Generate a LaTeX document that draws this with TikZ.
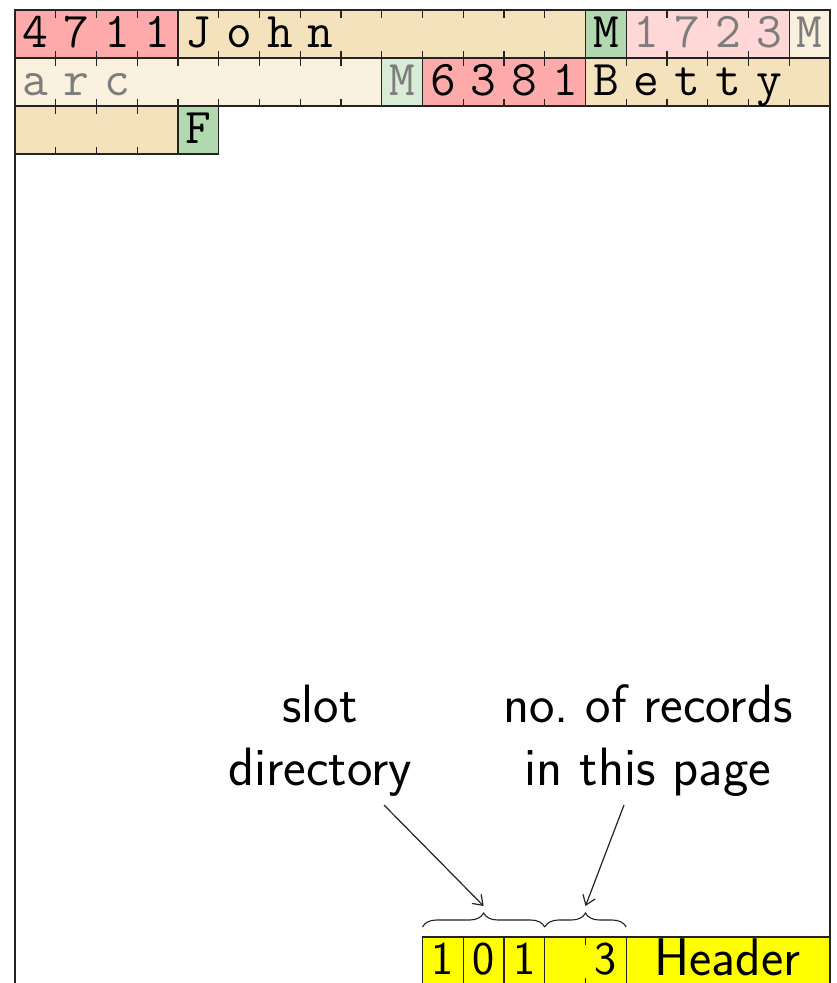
\documentclass[tikz,border=0pt]{standalone}
\usepackage{fontspec}
\usetikzlibrary{decorations.pathreplacing,arrows.meta}
\definecolor{recid}{RGB}{255,170,170}
\definecolor{recidf}{RGB}{255,215,215}
\definecolor{nm}{RGB}{243,226,187}
\definecolor{nmf}{RGB}{249,240,222}
\definecolor{sx}{RGB}{178,216,175}
\definecolor{sxf}{RGB}{216,236,215}
\definecolor{hdr}{RGB}{255,255,0}
\definecolor{faded}{RGB}{125,125,125}
\definecolor{ln}{RGB}{35,35,35}
\tikzset{
  fieldbox/.style={draw=ln,line width=1.4pt,inner sep=0pt,outer sep=0pt,minimum height=48pt},
  tickmark/.style={draw=ln,line width=1.4pt},
  ttch/.style={inner sep=0pt,anchor=base,font=\fontsize{50}{50}\selectfont\ttfamily},
  sfch/.style={inner sep=0pt,anchor=base,font=\fontsize{47}{47}\selectfont\sffamily},
  hdch/.style={inner sep=0pt,anchor=base,font=\fontsize{53}{53}\selectfont\sffamily},
  lbl/.style={inner sep=0pt,align=center,anchor=base,font=\fontsize{54}{63}\selectfont\sffamily},
  pageframe/.style={draw=ln,line width=1.4pt},
  bracestyle/.style={draw=ln,line width=1.1pt,decorate,decoration={brace,amplitude=14pt}},
  pointer/.style={draw=ln,line width=1.2pt,-{Straight Barb[length=9pt,width=13pt]}}
}
% #1 name, #2 top y, #3 first byte, #4 number of bytes, #5 fill, #6 chars, #7 text colour, #8 char style
\newcommand\fld[8]{%
  \pgfmathsetmacro\fx{15+#3*40.75}%
  \pgfmathsetmacro\fw{#4*40.75}%
  \node[fieldbox,fill=#5,minimum width=\fw pt,anchor=north west] (#1) at (\fx,#2) {};
  \ifnum#4>1
    \pgfmathtruncatemacro\nk{#4-1}%
    \foreach \k in {1,...,\nk} {
      \draw[tickmark] ({\fx+\k*40.75},#2) -- ++(0,7.5);
      \draw[tickmark] ({\fx+\k*40.75},{#2+48}) -- ++(0,-7.5);
    }
  \fi
  \foreach \c [count=\i from 0] in {#6} {
    \node[#8,text=#7] (#1-\i) at ({\fx+(\i+0.5)*40.75},{#2+37.5}) {\c};
  }
}
\begin{document}
\begin{tikzpicture}[x=1pt,y=-1pt]
\useasboundingbox (0,0) rectangle (836,983);
\draw[pageframe] (15,10) rectangle (830,1000);
% row 1
\fld{r1id}{10}{0}{4}{recid}{4,7,1,1}{black}{ttch}
\fld{r1nm}{10}{4}{10}{nm}{J,o,h,n}{black}{ttch}
\fld{r1sx}{10}{14}{1}{sx}{M}{black}{ttch}
\fld{r2id}{10}{15}{4}{recidf}{1,7,2,3}{faded}{ttch}
\fld{r2nma}{10}{19}{1}{nmf}{M}{faded}{ttch}
% row 2
\fld{r2nmb}{58}{0}{9}{nmf}{a,r,c}{faded}{ttch}
\fld{r2sx}{58}{9}{1}{sxf}{M}{faded}{ttch}
\fld{r3id}{58}{10}{4}{recid}{6,3,8,1}{black}{ttch}
\fld{r3nma}{58}{14}{6}{nm}{B,e,t,t,y}{black}{ttch}
% row 3
\fld{r3nmb}{106}{0}{4}{nm}{}{black}{ttch}
\fld{r3sx}{106}{4}{1}{sx}{F}{black}{ttch}
% header row
\fld{s1}{937}{10}{1}{hdr}{1}{black}{sfch}
\fld{s2}{937}{11}{1}{hdr}{0}{black}{sfch}
\fld{s3}{937}{12}{1}{hdr}{1}{black}{sfch}
\fld{cnt}{937}{13}{2}{hdr}{{},3}{black}{sfch}
\node[fieldbox,fill=hdr,minimum width=203.75pt,anchor=north west] (hd) at (626.25,937) {};
\node[hdch] (hdtext) at (727.5,975) {Header};
% braces
\coordinate (b1l) at (422.5,927);
\coordinate (b1r) at (544.75,927);
\coordinate (b2r) at (626.25,927);
\draw[bracestyle] (b1l) -- (b1r);
\draw[bracestyle] (b1r) -- (b2r);
\coordinate (tip1) at (483.6,906);
\coordinate (tip2) at (585.5,906);
% labels
\node[lbl] (sdir) at (320,785) {slot\\directory};
\node[lbl] (nrec) at (648,785) {no.\ of records\\in this page};
\coordinate (from1) at (384,805);
\coordinate (from2) at (624,805);
\draw[pointer] (from1) -- (tip1);
\draw[pointer] (from2) -- (tip2);
\end{tikzpicture}
\end{document}
